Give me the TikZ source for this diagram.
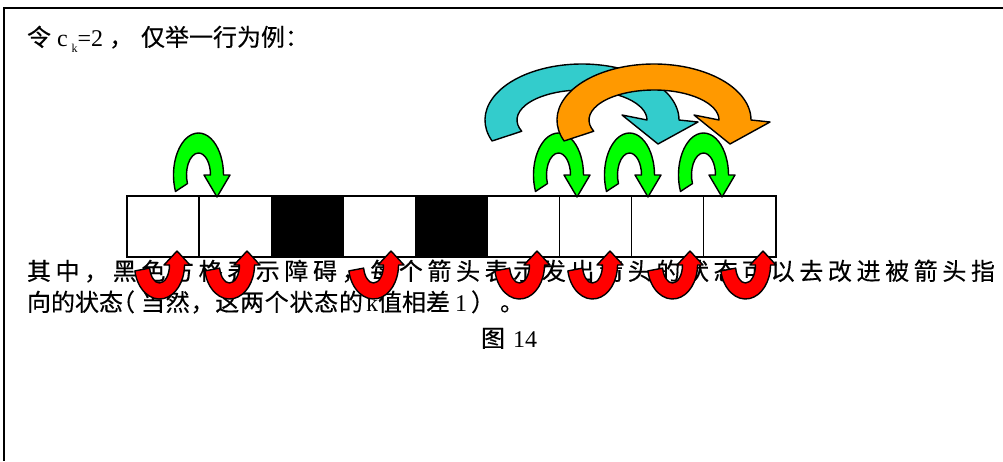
\documentclass[tikz,border=0pt]{standalone}
\usepackage{fontspec}
\setmainfont{Liberation Serif}
\newfontfamily\cjk[FakeBold=0.3]{Noto Sans CJK SC}
\definecolor{lime}{HTML}{00FF00}
\definecolor{tealc}{HTML}{33CCCC}
\definecolor{orangec}{HTML}{FF9900}
\definecolor{redc}{HTML}{FF0000}
\def\spr#1{\ifx#1\relax\else\hfil#1\expandafter\spr\fi}
% #1 style, #2 X, #3 Y, #4 Rx, #5 Ry, #6 rx, #7 ry, #8 foot angle; uses \hw \hl \dirn
\newcommand\uturn[8]{%
  \pgfmathsetmacro\mm{(#4+#6)/2}%
  \draw[#1] (#2,#3) ++(#8:#4pt and #5pt)
    arc[start angle=#8,end angle=0,x radius=#4pt,y radius=#5pt]
    -- ({#2+\mm+\hw},#3) -- ({#2+\mm},{#3+\dirn*\hl}) -- ({#2+\mm-\hw},#3)
    -- ({#2+#6},#3)
    arc[start angle=0,end angle=#8,x radius=#6pt,y radius=#7pt] -- cycle;}
% big arrow with slightly tilted head: #1 style, #2 X
\newcommand\biguturn[2]{%
  \draw[#1] (#2,120) ++(202:97pt and 56pt)
    arc[start angle=202,end angle=0,x radius=97pt,y radius=56pt]
    -- ({#2+116},122) -- ({#2+76},144) -- ({#2+40},115)
    -- ({#2+65},120)
    arc[start angle=0,end angle=202,x radius=65pt,y radius=30pt] -- cycle;}
\begin{document}
\begin{tikzpicture}[x=1pt,y=-1pt,
  cell/.style={draw,line width=1.3pt,minimum width=72.1pt,minimum height=61pt,inner sep=0pt,outer sep=0pt},
  txt/.style={anchor=base west,inner sep=0pt,outer sep=0pt,font=\fontsize{24}{24}\selectfont},
  ctxt/.style={txt,font=\fontsize{24}{24}\selectfont\cjk},
  arr/.style={draw=black,line width=1.4pt,line join=round}]
\useasboundingbox (0,0) rectangle (1003,461);
\fill[white] (0,0) rectangle (1003,461);
\draw[line width=2.5pt] (1003,8) -- (4,8) -- (4,461);
% title
\node[txt] (t1) at (27,46) {{\cjk 令} c\kern4pt\raisebox{-6pt}{\fontsize{12}{12}\selectfont k}=2 {\cjk ，}};
\node[ctxt] (t2) at (141,46) {仅举一行为例：};
% cells
\foreach \i/\f in {1/white,2/white,3/black,4/white,5/black,6/white,7/white,8/white,9/white}
  {\node[cell,fill=\f] (c\i) at ({127+72.1*(\i-0.5)},226.5) {};}
% paragraph
\node[ctxt] (p1) at (27,280) {\makebox[968pt][s]{其\spr 中，黑色方格表示障碍，每个箭头表示发出箭头的状态可以去改进被箭头指\relax}};
\node[ctxt] (p2a) at (27,311) {向的状态};
\node[ctxt] (p2b) at (111,311) {（};
\node[ctxt] (p2c) at (141,311) {\makebox[222pt][s]{当\spr 然，这两个状态的\relax}};
\node[txt] (p2d) at (366,311) {k};
\node[ctxt] (p2e) at (378,311) {值相差};
\node[txt] (p2f) at (455,311) {1};
\node[ctxt] (p2g) at (471,311) {）};
\node[ctxt] (p2h) at (500,311) {。};
\node[ctxt] (cap1) at (481,347) {图};
\node[txt] (cap2) at (513,347) {14};
% green arrows
\def\hw{13}\def\hl{22}\def\dirn{1}
\foreach \x in {198.5,558.5,629.5,703.5}
  {\uturn{arr,fill=lime}{\x}{175}{25}{42}{12}{22}{203}}
% big arrows
\biguturn{arr,fill=tealc}{582}
\biguturn{arr,fill=orangec}{654}
% red arrows
\def\hw{13}\def\hl{14}\def\dirn{-1}
\foreach \x in {159.5,229.5,373.5,519.5,592.5,672.5,745.5}
  {\uturn{arr,fill=redc}{\x}{265}{25}{34}{10}{18}{-170}}
\end{tikzpicture}
\end{document}
